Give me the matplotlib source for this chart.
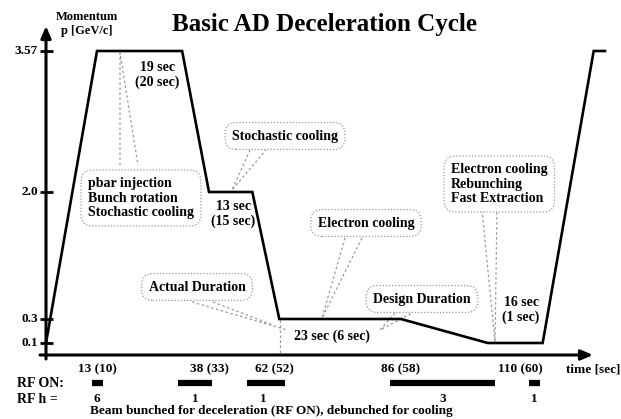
import numpy as np
import matplotlib
matplotlib.use('Agg')
import matplotlib.pyplot as plt

# cycle shape: time [s] vs momentum [GeV/c]
cycle_t = [0, 13, 32, 38, 54, 63, 86, 103.5, 114, 123, 125]
cycle_p = [0.1, 3.57, 3.57, 2.0, 2.0, 0.3, 0.3, 0.1, 0.1, 3.57, 3.57]

p_levels = [0.1, 0.3, 2.0, 3.57]
p_labels = ['0.1', '0.3', '2.0', '3.57']

tick_times = [13, 38, 62, 86, 110]
tick_labels = ['13 (10)', '38 (33)', '62 (52)', '86 (58)', '110 (60)']

# RF ON intervals and harmonic number
rf_start = [11.7, 31, 52, 84, 111.5]
rf_end = [14.3, 39, 64, 105, 113.5]
rf_h = ['6', '1', '1', '3', '1']

# schematic (non linear) axes: value -> pixel knots
W, H = 621, 419
T_KNOTS = [-11.5, 0, 13, 38, 62, 86, 110, 125, 130]
T_PIX = [0, 46, 97, 209, 274, 401, 520, 605, 621]
P_KNOTS = [-0.533, 0, 0.1, 0.3, 2.0, 3.57, 4.138]
P_PIX = [0, 64, 76, 100, 227, 368, 419]


def P(x, y):
    # pixel (from top left) -> axes fraction
    return (x / W, 1 - y / H)


fig = plt.figure(figsize=(6.21, 4.19), dpi=100)
ax = fig.add_axes([0, 0, 1, 1])
ax.set_xscale('function', functions=(lambda t: np.interp(t, T_KNOTS, T_PIX),
                                     lambda x: np.interp(x, T_PIX, T_KNOTS)))
ax.set_yscale('function', functions=(lambda p: np.interp(p, P_KNOTS, P_PIX),
                                     lambda y: np.interp(y, P_PIX, P_KNOTS)))
ax.set_xlim(T_KNOTS[0], T_KNOTS[-1])
ax.set_ylim(P_KNOTS[0], P_KNOTS[-1])
ax.axis('off')

font = dict(family='Liberation Serif', weight='bold')
gray = '#9a9a9a'

# title
ax.text(*P(325, 25), 'Basic AD Deceleration Cycle', transform=ax.transAxes,
        ha='center', va='center', fontsize=18, **font)

# axes with arrows
arrow = dict(arrowstyle='-|>,head_length=0.7,head_width=0.3', lw=2.2,
             color='black', shrinkA=0, shrinkB=0)
ax.annotate('', xy=P(46, 26), xytext=P(46, 359), xycoords='axes fraction',
            textcoords='axes fraction', arrowprops=arrow)
ax.annotate('', xy=P(593, 355), xytext=P(40, 355), xycoords='axes fraction',
            textcoords='axes fraction', arrowprops=arrow)

# y ticks
ax.hlines(p_levels, 40 / W, 53 / W, transform=ax.get_yaxis_transform(),
          color='black', lw=2)
for p, lab in zip(p_levels, p_labels):
    ax.text(38 / W, p, lab, transform=ax.get_yaxis_transform(),
            ha='right', va='center', fontsize=9.5, **font)

ax.text(*P(87, 24), 'Momentum\np [GeV/c]', transform=ax.transAxes,
        ha='center', va='center', fontsize=9, linespacing=1.25, **font)

# x tick labels
for t, lab in zip(tick_times, tick_labels):
    ax.text(t, 1 - 369 / H, lab, transform=ax.get_xaxis_transform(),
            ha='center', va='center', fontsize=9.5, **font)
ax.text(*P(566, 369), 'time [sec]', transform=ax.transAxes,
        ha='left', va='center', fontsize=9.5, **font)

# cycle
ax.plot(cycle_t, cycle_p, color='black', lw=1.9, solid_joinstyle='miter')

# RF rows
ax.hlines([1 - 383 / H] * len(rf_start), rf_start, rf_end,
          transform=ax.get_xaxis_transform(), color='black', lw=4.5)
for s, e, h in zip(rf_start, rf_end, rf_h):
    ax.text((s + e) / 2, 1 - 399 / H, h, transform=ax.get_xaxis_transform(),
            ha='center', va='center', fontsize=9.5, **font)
ax.text(*P(17, 383), 'RF ON:', transform=ax.transAxes,
        ha='left', va='center', fontsize=10, **font)
ax.text(*P(17, 399), 'RF h =', transform=ax.transAxes,
        ha='left', va='center', fontsize=10, **font)
ax.text(*P(90, 411), 'Beam bunched for deceleration (RF ON), debunched for cooling',
        transform=ax.transAxes, ha='left', va='center', fontsize=9.5, **font)

# plain labels
plain = [
    ('19 sec\n(20 sec)', 157, 75),
    ('13 sec\n(15 sec)', 233, 214),
    ('23 sec (6 sec)', 332, 336),
    ('16 sec\n(1 sec)', 521, 310),
]
for txt, x, y in plain:
    ax.text(*P(x, y), txt, transform=ax.transAxes, ha='center', va='center',
            fontsize=10, linespacing=1.15, **font)

# callout boxes
box = dict(boxstyle='round,pad=0.5,rounding_size=0.8', fc='white', ec=gray,
           ls=(0, (1, 1.5)), lw=0.9)
callouts = [
    ('pbar injection\nBunch rotation\nStochastic cooling', 88, 198, 'left'),
    ('Stochastic cooling', 285, 136, 'center'),
    ('Electron cooling', 366, 223, 'center'),
    ('Electron cooling\nRebunching\nFast Extraction', 451, 184, 'left'),
    ('Actual Duration', 197, 287, 'center'),
    ('Design Duration', 422, 299, 'center'),
]

# pointer lines (drawn under the boxes)
pointers = [
    [(120, 165), (120, 53), (138, 165)],
    [(250, 150), (232, 190), (266, 150)],
    [(345, 238), (322, 318), (362, 238)],
    [(482, 210), (495, 342), (497, 210)],
    [(192, 302), (287, 330)],
    [(213, 302), (273, 325)],
    [(395, 313), (380, 330), (412, 313)],
    [(280, 320), (280, 355)],
]
for pts in pointers:
    xs, ys = zip(*[P(x, y) for x, y in pts])
    ax.plot(xs, ys, transform=ax.transAxes, color=gray, lw=0.9,
            ls=(0, (2, 2)), zorder=1)

for txt, x, y, ha in callouts:
    ax.text(*P(x, y), txt, transform=ax.transAxes, ha=ha, va='center',
            fontsize=10, linespacing=1.15, bbox=box, zorder=3, **font)

fig.savefig('out.png', dpi=100, facecolor='white')
